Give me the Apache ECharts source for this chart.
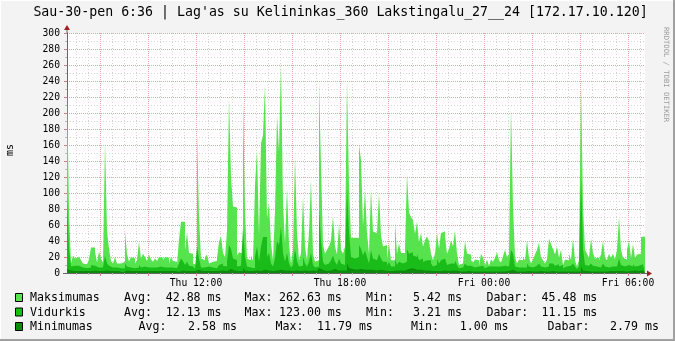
<!DOCTYPE html>
<html><head><meta charset="utf-8">
<script src="https://cdn.jsdelivr.net/npm/echarts@6/dist/echarts.min.js"></script>
<style>html,body{margin:0;padding:0;background:#F3F3F3}#c{width:675px;height:341px}</style>
</head><body><div id="c"></div>
<script>
// ---------------- data ----------------
const titleText = "Sau-30-pen 6:36 | Lag'as su Kelininkas_360 Lakstingalu_27__24 [172.17.10.120]";
const yUnit = "ms";
const watermark = "RRDTOOL / TOBI OETIKER";
const seriesNames = ["Maksimumas", "Vidurkis", "Minimumas"];
const seriesColors = ["#57E34E", "#19BC19", "#0C8B0C"];

// one value per 5-minute step, starting Thu 06:37:30
const maxVals = [
240,77,12,22,18,20,20,16,12,11,
10,17,32,32,27,13,27,18,13,164,
53,30,15,12,20,12,12,10,14,52,
24,14,20,18,12,16,39,18,24,20,
15,23,17,14,18,15,20,19,16,20,
19,12,20,15,14,10,42,64,64,28,
51,25,24,12,10,174,71,18,16,20,
23,12,14,16,15,18,39,46,25,20,
52,219,120,83,82,22,26,24,219,77,
18,16,22,15,110,154,47,162,172,236,
68,88,36,16,77,197,152,263,87,37,
106,36,12,29,146,50,16,24,96,33,
16,50,117,24,14,16,239,133,36,24,
29,33,41,71,33,23,61,29,24,33,
240,110,44,44,44,44,161,141,59,104,
50,24,105,52,50,50,100,47,33,35,
17,37,16,16,64,24,37,25,25,30,
124,76,70,66,49,64,38,50,33,41,
46,40,24,16,24,50,30,50,52,46,
24,30,41,33,53,24,10,12,12,40,
24,23,16,13,17,16,9,24,19,10,
17,9,17,14,19,26,16,13,21,29,
20,24,207,83,20,12,17,16,20,16,
41,19,12,17,23,29,38,19,16,12,
17,43,36,30,23,33,19,29,10,17,
16,24,16,43,16,8,16,238,84,29,
24,19,43,25,18,19,16,23,40,19,
16,24,19,24,17,29,70,29,19,17,
29,40,19,36,19,23,24,45,45.48
];
const avgVals = [
95,30,8,9,8,9,8,7,6,6,
6,7,10,9,8,7,8,7,7,22,
12,9,7,6,7,6,6,5,6,12,
8,7,7,6,6,7,10,7,8,8,
7,8,7,6,7,6,8,7,7,8,
7,6,7,6,6,5,12,18,15,10,
14,9,8,6,5,33,18,7,7,8,
8,6,7,7,6,7,10,12,9,8,
14,35,30,18,16,8,9,9,56,20,
8,7,8,6,20,33,14,33,45,45,
20,25,12,8,18,40,35,58,25,14,
25,12,7,10,30,15,8,9,20,12,
8,14,25,10,7,8,79,40,14,10,
12,14,16,22,14,10,18,12,10,14,
106,51,20,18,18,20,35,30,22,28,
20,12,28,18,16,16,24,18,14,14,
9,14,8,8,18,10,14,12,12,14,
30,24,26,22,20,24,16,18,14,16,
18,16,12,8,10,18,12,16,18,16,
10,12,14,12,16,10,6,7,7,12,
9,9,8,7,8,8,6,9,8,6,
8,6,8,7,8,10,8,7,9,10,
8,9,29,24,8,7,8,7,8,7,
12,8,7,8,9,10,12,8,7,6,
8,12,12,10,9,11,8,10,6,8,
8,9,8,12,8,5,8,123,30,10,
9,8,12,9,8,8,7,9,12,8,
7,9,8,9,8,10,18,10,8,8,
10,12,8,11,8,9,9,11,11.15
];
const minVals = [
5,3,2.5,2.5,2.5,2.5,2.5,2.5,2.5,2.5,
2.5,2.5,3,3,2.5,2.5,2.5,2.5,2.5,3,
3,2.5,2.5,2.5,2.5,2.5,2.5,1,2.5,3,
2.5,2.5,2.5,2.5,2.5,2.5,3,2.5,2.5,2.5,
2.5,2.5,2.5,2.5,2.5,2.5,2.5,2.5,2.5,2.5,
2.5,2.5,2.5,2.5,2.5,1.5,3,3,3,2.5,
3,2.5,2.5,2.5,1.5,4,3,2.5,2.5,2.5,
2.5,2.5,2.5,2.5,2.5,2.5,2.5,3,2.5,2.5,
3,5,4,3,3,2.5,2.5,2.5,6,3,
2.5,2.5,2.5,2.5,3,3,2.5,3,4,5,
3,3,2.5,2.5,3,4,4,5,3,2.5,
3,2.5,2.5,2.5,3,3,2.5,2.5,3,2.5,
2.5,2.5,3,2.5,2.5,2.5,6,4,3,2.5,
3,3,4,5,4,3,4,3,3,3,
11.79,6,5,5,4,5,5,5,4,4,
4,3,4,3,3,3,4,3,3,3,
2.5,3,2.5,2.5,3,2.5,3,3,3,3,
5,6,6,5,4,5,4,4,3,3,
3,3,2.5,2.5,2.5,3,2.5,3,3,3,
2.5,2.5,3,2.5,3,2.5,2,2,2,2.5,
2.5,2.5,2,2,2,2,2,2.5,2,2,
2,2,2,2,2,2.5,2,2,2,2.5,
2.5,2.5,4,3,2,2,2,2,2,2,
2.5,2,2,2,2,2.5,2.5,2,2,2,
2,2.5,2.5,2.5,2,2.5,2,2.5,2,2,
2,2.5,2,2.5,2,1.5,2,8,3,2.5,
2.5,2,2.5,2,2,2,2,2,2.5,2,
2,2.5,2,2.5,2,2.5,3,2.5,2,2,
2.5,2.5,2,3,2,2.5,3,3,2.79
];

const xTickLabels = ["Thu 12:00", "Thu 18:00", "Fri 00:00", "Fri 06:00"];
const xTickSlots = [129, 273, 417, 561];   // 2.5-minute slots after 06:37:30
const yMax = 300, yStep = 20;

const statsRows = [
  ["Avg:", "42.88 ms", "Max:", "262.63 ms", "Min:", "5.42 ms", "Dabar:", "45.48 ms"],
  ["Avg:", "12.13 ms", "Max:", "123.00 ms", "Min:", "3.21 ms", "Dabar:", "11.15 ms"],
  ["Avg:", "2.58 ms",  "Max:", "11.79 ms",  "Min:", "1.00 ms", "Dabar:", "2.79 ms"]
];

// ---------------- layout ----------------
const G = {left: 67, top: 33, right: 30, bottom: 68};
const W = 675, H = 341;
const SLOTS = 579, SPS = 2; // slots on axis, slots per sample
const MONO = "'DejaVu Sans Mono', monospace";
const cats = Array.from({length: SLOTS}, (_, i) => i);
const toPts = arr => arr.map((v, i) => [i * SPS, v]).concat([[arr.length * SPS, arr[arr.length - 1]]]);

const isMajor = i => i % 48 === 33;
const isMinor = i => i % 12 === 9 && !isMajor(i);
const isLabel = i => xTickSlots.indexOf(i) >= 0;

const chart = echarts.init(document.getElementById('c'), null, {renderer: 'canvas'});

const plotRight = W - G.right, plotBottom = H - G.bottom;
const arrowColor = '#A01E1E';

const colX = [[124, 165.7, 244.5, 279, 366, 413, 486.4, 541.5],
              [124, 165.7, 244.5, 279, 366, 413, 486.4, 541.5],
              [138.6, 188, 275.5, 317, 411, 459.7, 547.6, 610]];
const rowY = [298, 312.5, 327];

const graphics = [
  {type: 'rect', shape: {x: G.left, y: G.top, width: W - G.left - G.right, height: H - G.top - G.bottom}, style: {fill: '#FFFFFF'}, z: -10, silent: true},
  {type: 'rect', shape: {x: W - 2, y: 0, width: 2, height: H}, style: {fill: '#A0A0A0'}, silent: true},
  {type: 'rect', shape: {x: 0, y: H - 2, width: W, height: 2}, style: {fill: '#A0A0A0'}, silent: true},
  {type: 'rect', shape: {x: 0, y: 0, width: W - 2, height: 1}, style: {fill: '#FFFFFF'}, silent: true},
  {type: 'rect', shape: {x: 0, y: 0, width: 1, height: H - 2}, style: {fill: '#FFFFFF'}, silent: true},
  {type: 'text', x: 340.5, y: 13, style: {text: titleText, font: '13.25px ' + MONO, fill: '#000', align: 'center', verticalAlign: 'middle'}, silent: true},
  {type: 'text', x: 10, y: 150, rotation: Math.PI / 2, style: {text: yUnit, font: '10px ' + MONO, fill: '#000', align: 'center', verticalAlign: 'middle'}, silent: true},
  {type: 'text', x: 666, y: 27, rotation: -Math.PI / 2, style: {text: watermark, font: '7.2px ' + MONO, fill: '#9C9C9C', align: 'left', verticalAlign: 'middle'}, silent: true},
  // axis extensions and arrows
  {type: 'line', shape: {x1: G.left, y1: G.top, x2: G.left, y2: G.top - 4}, style: {stroke: '#666', lineWidth: 1}, silent: true, z: 50},
  {type: 'polygon', shape: {points: [[G.left - 3, G.top - 3], [G.left + 3, G.top - 3], [G.left, G.top - 8]]}, style: {fill: arrowColor}, silent: true, z: 51},
  {type: 'line', shape: {x1: G.left - 4, y1: plotBottom + 0.5, x2: G.left, y2: plotBottom + 0.5}, style: {stroke: '#666', lineWidth: 1}, silent: true, z: 50},
  {type: 'line', shape: {x1: plotRight, y1: plotBottom + 0.5, x2: plotRight + 3, y2: plotBottom + 0.5}, style: {stroke: '#666', lineWidth: 1}, silent: true, z: 50},
  {type: 'polygon', shape: {points: [[plotRight + 2, plotBottom - 2.5], [plotRight + 2, plotBottom + 3.5], [plotRight + 7, plotBottom + 0.5]]}, style: {fill: arrowColor}, silent: true, z: 51}
];

seriesNames.forEach((name, r) => {
  graphics.push({type: 'rect', shape: {x: 15.5, y: rowY[r] - 4.5, width: 7, height: 8}, style: {fill: seriesColors[r], stroke: '#000', lineWidth: 1}, silent: true});
  graphics.push({type: 'text', x: 30, y: rowY[r], style: {text: name, font: '11.6px ' + MONO, fill: '#000', verticalAlign: 'middle'}, silent: true});
  statsRows[r].forEach((t, c) => {
    graphics.push({type: 'text', x: colX[r][c], y: rowY[r], style: {text: t, font: '11.6px ' + MONO, fill: '#000', verticalAlign: 'middle'}, silent: true});
  });
});

const baseX = {
  type: 'category', data: cats, boundaryGap: false, gridIndex: 0, position: 'bottom'
};

const option = {
  animation: false,
  backgroundColor: '#F3F3F3',
  grid: {left: G.left, top: G.top, right: G.right, bottom: G.bottom, containLabel: false},
  xAxis: [
    Object.assign({}, baseX, {
      axisLine: {show: false},
      axisTick: {show: true, interval: (i) => isMinor(i), length: 2, lineStyle: {color: '#BBBBBB'}},
      axisLabel: {show: false},
      splitLine: {show: true, interval: (i) => isMinor(i), lineStyle: {color: '#D4D4D4', type: [1, 2], width: 1}}
    }),
    Object.assign({}, baseX, {
      axisLine: {show: true, lineStyle: {color: '#666666', width: 1}},
      axisTick: {show: true, interval: (i) => isMajor(i), length: 3, lineStyle: {color: '#D08080'}},
      axisLabel: {show: true, interval: (i) => isLabel(i), margin: 5,
        formatter: (v, i) => { const k = xTickSlots.indexOf(Number(v)); return k >= 0 ? xTickLabels[k] : ''; },
        fontFamily: MONO, fontSize: 9.7, color: '#000'},
      splitLine: {show: true, interval: (i) => isMajor(i), lineStyle: {color: '#E2A5A5', type: [1, 1], width: 1}}
    })
  ],
  yAxis: {
    type: 'value', min: 0, max: yMax, interval: yStep,
    axisLine: {show: true, lineStyle: {color: '#666666', width: 1}},
    axisTick: {show: true, length: 3, lineStyle: {color: '#D08080'}},
    minorTick: {show: true, splitNumber: 2, length: 2, lineStyle: {color: '#BBBBBB'}},
    axisLabel: {fontFamily: MONO, fontSize: 9.7, color: '#000', margin: 7},
    splitLine: {show: true, lineStyle: {color: '#E2A5A5', type: [1, 1], width: 1}},
    minorSplitLine: {show: true, lineStyle: {color: '#D4D4D4', type: [1, 2], width: 1}}
  },
  series: [maxVals, avgVals, minVals].map((arr, k) => ({
    name: seriesNames[k], type: 'line', step: 'end', xAxisIndex: 1, data: toPts(arr),
    symbol: 'none', silent: true, z: 2 + k,
    lineStyle: {width: 0}, itemStyle: {color: seriesColors[k]},
    areaStyle: {color: seriesColors[k], opacity: 1}
  })),
  graphic: graphics
};
chart.setOption(option);
</script></body></html>
